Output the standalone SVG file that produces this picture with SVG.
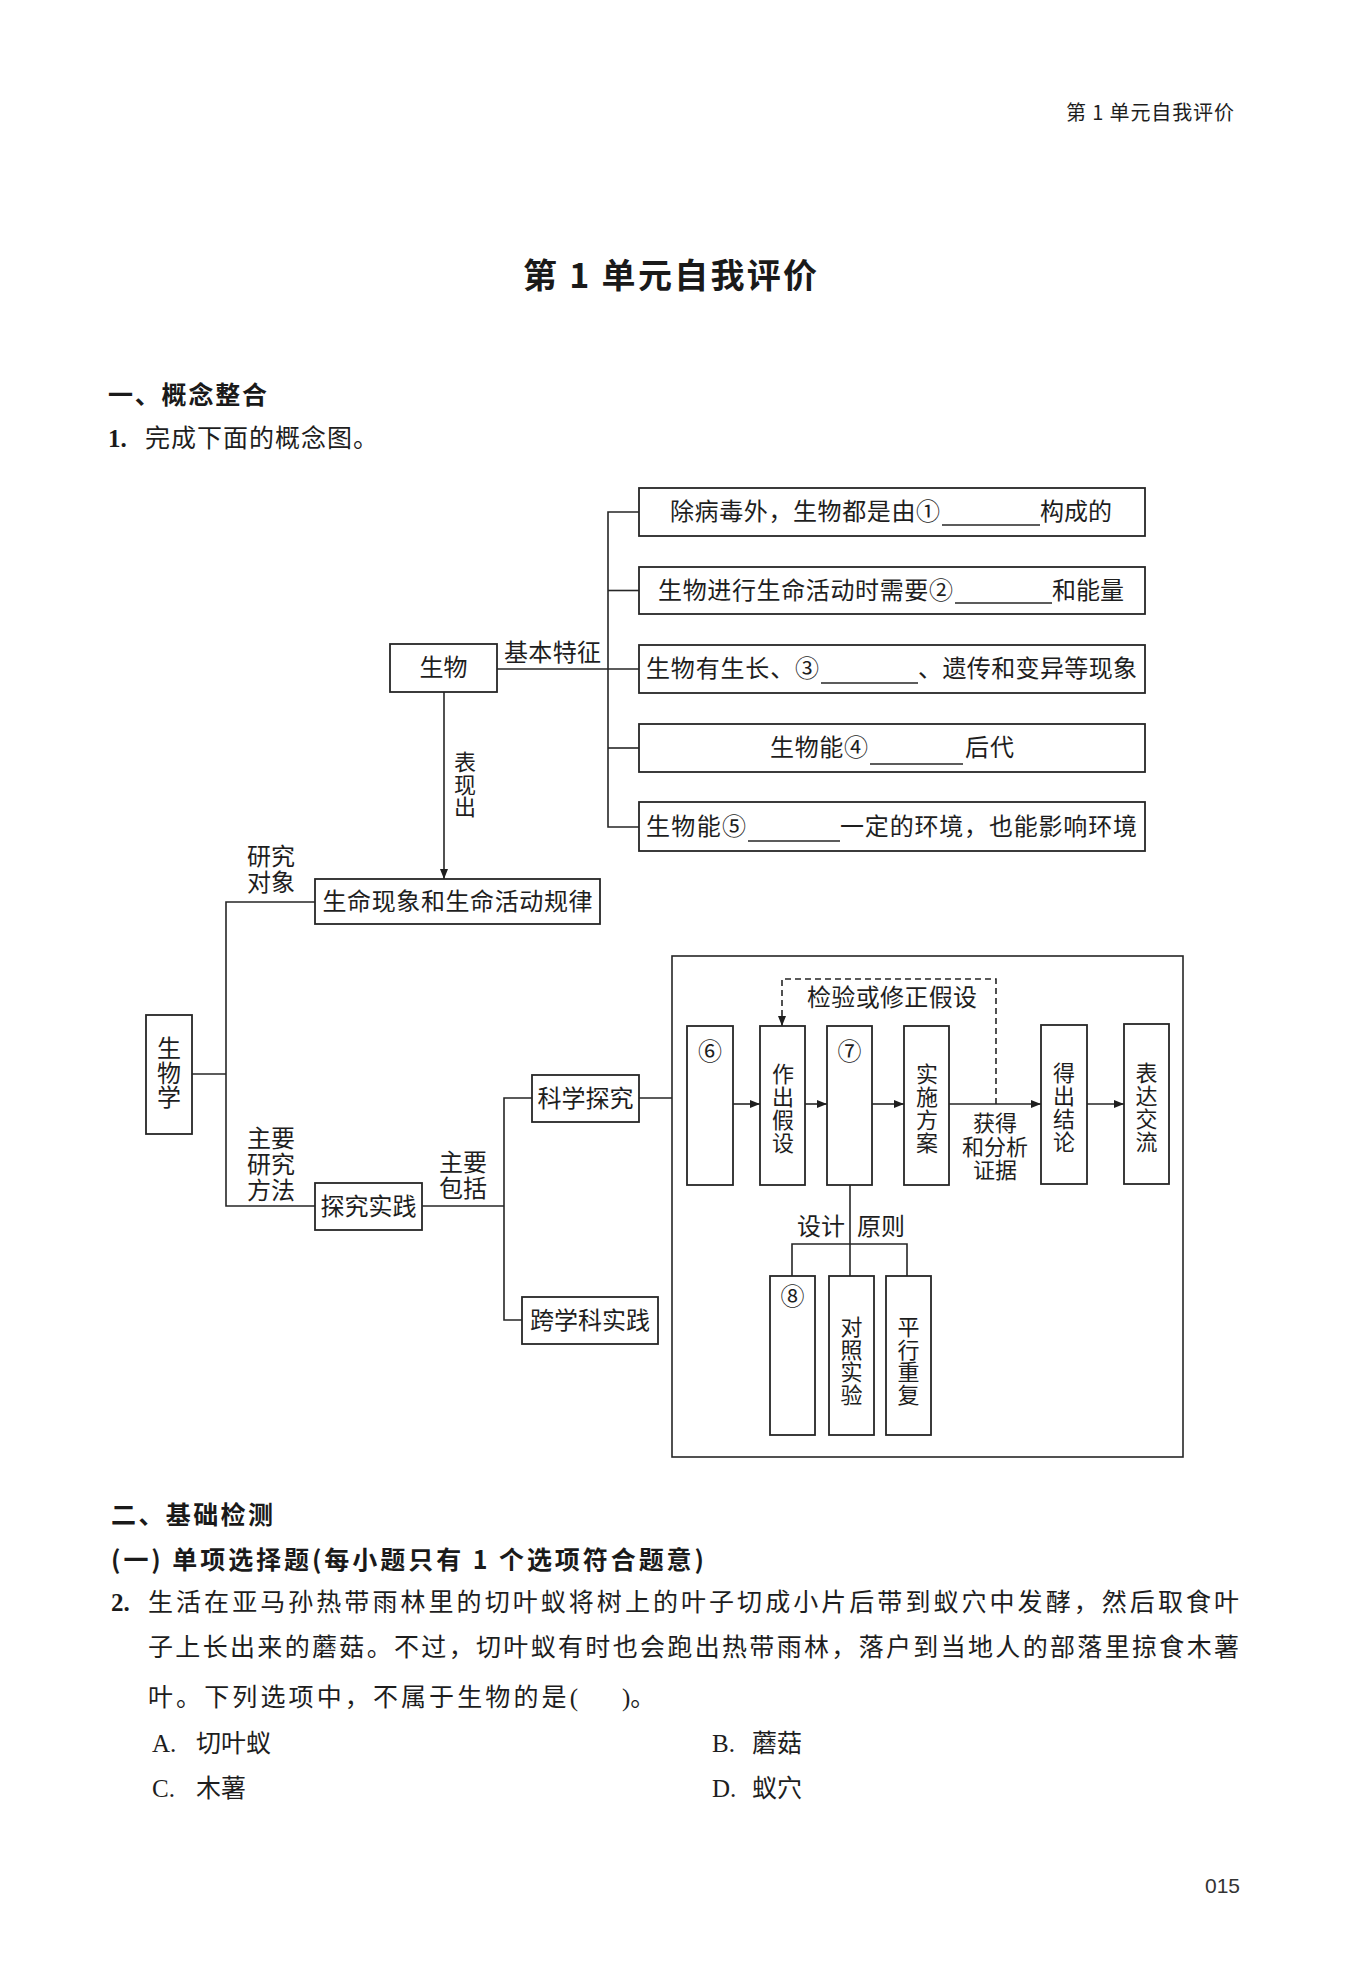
<svg xmlns="http://www.w3.org/2000/svg" width="1350" height="1966" viewBox="0 0 1350 1966">
<style>
.ln{stroke:#262626;stroke-width:1.6;fill:none}
.dash{stroke:#262626;stroke-width:1.6;fill:none;stroke-dasharray:6 4}
.bx{fill:#fff;stroke:#262626;stroke-width:1.8}
.t{font-family:"Liberation Serif","Noto Sans CJK SC",serif;font-size:24px;fill:#1e1e1e;dominant-baseline:central}
.c{text-anchor:middle}
.v{font-size:22px}
.q{font-size:25px}
.h{font-family:"Noto Sans CJK SC","Liberation Sans",sans-serif;font-weight:700;fill:#1a1a1a;dominant-baseline:central}
.b{font-family:"Liberation Serif","Noto Sans CJK SC",serif;font-weight:700;fill:#1a1a1a;dominant-baseline:central}
</style>
<defs>
<marker id="ah" viewBox="0 0 10 8" refX="10" refY="4" markerWidth="10" markerHeight="8" markerUnits="userSpaceOnUse" orient="auto">
<path d="M0,0 L10,4 L0,8 z" fill="#1e1e1e"/>
</marker>
</defs>
<rect x="0" y="0" width="1350" height="1966" fill="#fff"/>

<!-- page header and title -->
<text id="page-header" class="t" x="1066" y="111" textLength="168" fill="#333" style="font-family:'Noto Sans CJK SC','Liberation Sans',sans-serif;font-size:20px">第 1 单元自我评价</text>
<text id="title" class="h" x="670" y="273" text-anchor="middle" font-size="34" textLength="294">第 1 单元自我评价</text>
<text id="sec1" class="h" x="108" y="393" font-size="25" textLength="159">一、概念整合</text>
<g id="q1">
<text class="b" x="108" y="438" font-size="25">1.</text>
<text class="t q" x="145" y="438" textLength="233">完成下面的概念图。</text>
</g>

<!-- connectors -->
<g id="connectors">
<line class="ln" x1="497" y1="669" x2="639" y2="669"/>
<polyline class="ln" points="639,512 608,512 608,827 639,827"/>
<line class="ln" x1="608" y1="590.5" x2="639" y2="590.5"/>
<line class="ln" x1="608" y1="748" x2="639" y2="748"/>
<line class="ln" x1="444" y1="692" x2="444" y2="879" marker-end="url(#ah)"/>
<polyline class="ln" points="315,902 226,902 226,1206 315,1206"/>
<line class="ln" x1="192" y1="1074" x2="226" y2="1074"/>
<line class="ln" x1="422" y1="1206" x2="504" y2="1206"/>
<polyline class="ln" points="532,1098 504,1098 504,1320 522,1320"/>
<line class="ln" x1="639" y1="1098" x2="672" y2="1098"/>
<line class="ln" x1="732" y1="1104" x2="760" y2="1104" marker-end="url(#ah)"/>
<line class="ln" x1="805" y1="1104" x2="827" y2="1104" marker-end="url(#ah)"/>
<line class="ln" x1="872" y1="1104" x2="904" y2="1104" marker-end="url(#ah)"/>
<line class="ln" x1="949" y1="1104" x2="1041" y2="1104" marker-end="url(#ah)"/>
<line class="ln" x1="1087" y1="1104" x2="1124" y2="1104" marker-end="url(#ah)"/>
<polyline class="dash" points="996,1104 996,979 782,979 782,1026" marker-end="url(#ah)"/>
<line class="ln" x1="850" y1="1185" x2="850" y2="1276"/>
<polyline class="ln" points="792,1276 792,1244 907,1244 907,1276"/>
</g>

<!-- connector labels -->
<g id="labels">
<text class="t" x="504" y="653" textLength="97">基本特征</text>
<text class="t v c" x="465"><tspan x="465" y="762">表</tspan><tspan x="465" y="784.5">现</tspan><tspan x="465" y="807">出</tspan></text>
<text class="t" x="247" font-size="24"><tspan x="247" y="857">研究</tspan><tspan x="247" y="883">对象</tspan></text>
<text class="t" x="247" font-size="24"><tspan x="247" y="1139">主要</tspan><tspan x="247" y="1165">研究</tspan><tspan x="247" y="1191">方法</tspan></text>
<text class="t" x="439" font-size="24"><tspan x="439" y="1163">主要</tspan><tspan x="439" y="1189">包括</tspan></text>
<text class="t" x="807" y="998" textLength="170">检验或修正假设</text>
<text class="t c v" x="995"><tspan x="995" y="1123">获得</tspan><tspan x="995" y="1146.5">和分析</tspan><tspan x="995" y="1170">证据</tspan></text>
<text class="t" x="797" y="1227" font-size="23">设计</text>
<text class="t" x="857" y="1227" font-size="23">原则</text>
</g>

<!-- top concept boxes -->
<g id="n-shengwu"><rect class="bx" x="390" y="644" width="107" height="48"/><text class="t c" x="443.5" y="668">生物</text></g>

<g id="n-feature1"><rect class="bx" x="639" y="488" width="506" height="48"/>
<text class="t" x="670" y="512" textLength="270">除病毒外，生物都是由①</text>
<line class="ln" x1="942" y1="525" x2="1040" y2="525"/>
<text class="t" x="1040" y="512" textLength="72">构成的</text></g>

<g id="n-feature2"><rect class="bx" x="639" y="567" width="506" height="47"/>
<text class="t" x="658" y="590.5" textLength="295">生物进行生命活动时需要②</text>
<line class="ln" x1="955" y1="603" x2="1052" y2="603"/>
<text class="t" x="1052" y="590.5" textLength="72">和能量</text></g>

<g id="n-feature3"><rect class="bx" x="639" y="645" width="506" height="48"/>
<text class="t" x="646" y="669" textLength="173">生物有生长、③</text>
<line class="ln" x1="821" y1="683" x2="918" y2="683"/>
<text class="t" x="918" y="669" textLength="219">、遗传和变异等现象</text></g>

<g id="n-feature4"><rect class="bx" x="639" y="724" width="506" height="48"/>
<text class="t" x="770" y="748" textLength="98">生物能④</text>
<line class="ln" x1="870" y1="764" x2="963" y2="764"/>
<text class="t" x="965" y="748" textLength="49">后代</text></g>

<g id="n-feature5"><rect class="bx" x="639" y="802" width="506" height="49"/>
<text class="t" x="646" y="826.5" textLength="100">生物能⑤</text>
<line class="ln" x1="748" y1="841" x2="840" y2="841"/>
<text class="t" x="840" y="826.5" textLength="297">一定的环境，也能影响环境</text></g>

<g id="n-shengming"><rect class="bx" x="315" y="879" width="285" height="45"/><text class="t c" x="457.5" y="901.5" textLength="270">生命现象和生命活动规律</text></g>

<g id="n-shengwuxue"><rect class="bx" x="146" y="1015" width="46" height="119"/>
<text class="t c"><tspan x="169" y="1049">生</tspan><tspan x="169" y="1073.5">物</tspan><tspan x="169" y="1098">学</tspan></text></g>

<g id="n-tanjiu"><rect class="bx" x="315" y="1183" width="107" height="47"/><text class="t c" x="368.5" y="1206.5">探究实践</text></g>
<g id="n-kexue"><rect class="bx" x="532" y="1075" width="107" height="47"/><text class="t c" x="585.5" y="1098.5">科学探究</text></g>
<g id="n-kuaxueke"><rect class="bx" x="522" y="1297" width="136" height="47"/><text class="t c" x="590" y="1320.5">跨学科实践</text></g>

<!-- big frame -->
<g id="n-frame"><rect x="672" y="956" width="511" height="501" fill="none" stroke="#262626" stroke-width="1.6"/></g>

<g id="n-6"><rect class="bx" x="687" y="1026" width="46" height="159"/><text class="t c" x="710" y="1052">⑥</text></g>
<g id="n-hypo"><rect class="bx" x="760" y="1026" width="45" height="159"/>
<text class="t c v"><tspan x="783" y="1074">作</tspan><tspan x="783" y="1097">出</tspan><tspan x="783" y="1120">假</tspan><tspan x="783" y="1143">设</tspan></text></g>
<g id="n-7"><rect class="bx" x="827" y="1026" width="45" height="159"/><text class="t c" x="849.5" y="1052">⑦</text></g>
<g id="n-shishi"><rect class="bx" x="904" y="1026" width="45" height="159"/>
<text class="t c v"><tspan x="927" y="1074">实</tspan><tspan x="927" y="1097">施</tspan><tspan x="927" y="1120">方</tspan><tspan x="927" y="1143">案</tspan></text></g>
<g id="n-jielun"><rect class="bx" x="1041" y="1025" width="46" height="159"/>
<text class="t c v"><tspan x="1064" y="1073">得</tspan><tspan x="1064" y="1096">出</tspan><tspan x="1064" y="1119">结</tspan><tspan x="1064" y="1142">论</tspan></text></g>
<g id="n-jiaoliu"><rect class="bx" x="1124" y="1024" width="45" height="160"/>
<text class="t c v"><tspan x="1146.5" y="1073">表</tspan><tspan x="1146.5" y="1096">达</tspan><tspan x="1146.5" y="1119">交</tspan><tspan x="1146.5" y="1142">流</tspan></text></g>

<g id="n-8"><rect class="bx" x="770" y="1276" width="45" height="159"/><text class="t c" x="792.5" y="1297">⑧</text></g>
<g id="n-duizhao"><rect class="bx" x="829" y="1276" width="45" height="159"/>
<text class="t c v"><tspan x="851.5" y="1327">对</tspan><tspan x="851.5" y="1349.5">照</tspan><tspan x="851.5" y="1372">实</tspan><tspan x="851.5" y="1394.5">验</tspan></text></g>
<g id="n-pingxing"><rect class="bx" x="886" y="1276" width="45" height="159"/>
<text class="t c v"><tspan x="908.5" y="1327">平</tspan><tspan x="908.5" y="1349.5">行</tspan><tspan x="908.5" y="1372">重</tspan><tspan x="908.5" y="1394.5">复</tspan></text></g>

<!-- section 2 -->
<text id="sec2" class="h" x="111" y="1513" font-size="25" textLength="162">二、基础检测</text>
<text id="sec2-1" class="h" x="111" y="1558" font-size="25" textLength="593">(一) 单项选择题(每小题只有 1 个选项符合题意)</text>
<g id="q2">
<text class="b" x="111" y="1602" font-size="25">2.</text>
<text class="t q" x="148" y="1602" textLength="1091">生活在亚马孙热带雨林里的切叶蚁将树上的叶子切成小片后带到蚁穴中发酵，然后取食叶</text>
<text class="t q" x="148" y="1647" textLength="1091">子上长出来的蘑菇。不过，切叶蚁有时也会跑出热带雨林，落户到当地人的部落里掠食木薯</text>
<text class="t q" x="148" y="1697"><tspan x="148" y="1697" textLength="430">叶。下列选项中，不属于生物的是(</tspan><tspan x="622" y="1697">)。</tspan></text>
<text class="t q" x="152" y="1743">A.<tspan x="196">切叶蚁</tspan></text>
<text class="t q" x="712" y="1743">B.<tspan x="752">蘑菇</tspan></text>
<text class="t q" x="152" y="1788">C.<tspan x="196">木薯</tspan></text>
<text class="t q" x="712" y="1788">D.<tspan x="752">蚁穴</tspan></text>
</g>
<text id="page-number" x="1205" y="1885" font-family="Liberation Sans, sans-serif" font-size="21" fill="#333" dominant-baseline="central">015</text>
</svg>
